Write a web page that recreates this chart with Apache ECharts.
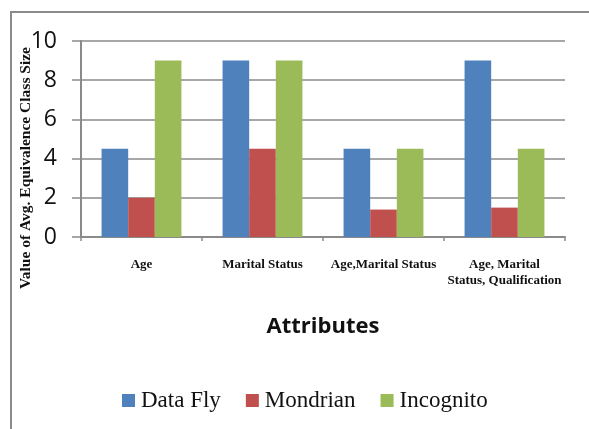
<!DOCTYPE html>
<html>
<head>
<meta charset="utf-8">
<script src="https://cdn.jsdelivr.net/npm/echarts@6/dist/echarts.min.js"></script>
<style>
  html, body { margin: 0; padding: 0; background: #fff; }
  #chart { width: 589px; height: 429px; }
</style>
</head>
<body>
<div id="chart"></div>
<script>
// Attribute sets on the x axis
const categories = ['Age', 'Marital Status', 'Age,Marital Status', 'Age, Marital\nStatus, Qualification'];
// Average equivalence class size per algorithm
const dataFly = [4.5, 9, 4.5, 9];
const mondrian = [2, 4.5, 1.4, 1.5];
const incognito = [9, 9, 4.5, 4.5];
const yTicks = [0, 2, 4, 6, 8, 10];
const yTitle = 'Value of Avg. Equivalence Class Size';

const gray = '#8a8a8a';
const chart = echarts.init(document.getElementById('chart'));

function barSeries(name, data, color) {
  return {
    name: name,
    type: 'bar',
    data: data,
    barGap: '0%',
    barCategoryGap: '34%',
    itemStyle: { color: color },
    emphasis: { disabled: true }
  };
}

chart.setOption({
  animation: false,
  grid: { left: 81, right: 24, top: 41, bottom: 192 },
  graphic: [{
    type: 'polyline',
    shape: { points: [[11, 429], [11, 12], [589, 12]] },
    style: { stroke: gray, lineWidth: 2, fill: null }
  }, {
    // vertical axis title, longer than the plot height
    type: 'text',
    x: 26,
    y: 168,
    rotation: Math.PI / 2,
    style: {
      text: yTitle,
      fill: '#111',
      font: 'bold 15.5px "Liberation Serif"',
      align: 'center',
      verticalAlign: 'middle'
    }
  }],
  legend: {
    left: 122,
    top: 389,
    padding: 0,
    itemWidth: 13,
    itemHeight: 13,
    itemGap: 25,
    icon: 'rect',
    textStyle: { fontFamily: 'Liberation Serif', fontSize: 23, color: '#111', padding: [0, 0, 0, 1] },
    data: ['Data Fly', 'Mondrian', 'Incognito']
  },
  xAxis: {
    type: 'category',
    data: categories,
    name: 'Attributes',
    nameLocation: 'middle',
    nameGap: 79,
    nameTextStyle: { fontFamily: 'Open Sans', fontWeight: 'bold', fontSize: 22, color: '#111' },
    axisLine: { lineStyle: { color: gray, width: 2 } },
    axisTick: { show: true, length: 4, lineStyle: { color: gray, width: 1.5 } },
    axisLabel: {
      interval: 0,
      margin: 20,
      fontFamily: 'Liberation Serif',
      fontWeight: 'bold',
      fontSize: 13,
      lineHeight: 16,
      color: '#111'
    }
  },
  yAxis: {
    type: 'value',
    min: yTicks[0],
    max: yTicks[yTicks.length - 1],
    interval: 2,
    axisLine: { show: true, lineStyle: { color: gray, width: 2 } },
    axisTick: { show: true, length: 9, lineStyle: { color: gray, width: 1.5 } },
    splitLine: { lineStyle: { color: gray, width: 1.5 } },
    axisLabel: {
      margin: 24,
      fontFamily: 'Open Sans',
      fontSize: 23,
      color: '#111'
    }
  },
  series: [
    barSeries('Data Fly', dataFly, '#4F81BD'),
    barSeries('Mondrian', mondrian, '#C0504D'),
    barSeries('Incognito', incognito, '#9BBB59')
  ]
});
</script>
</body>
</html>
